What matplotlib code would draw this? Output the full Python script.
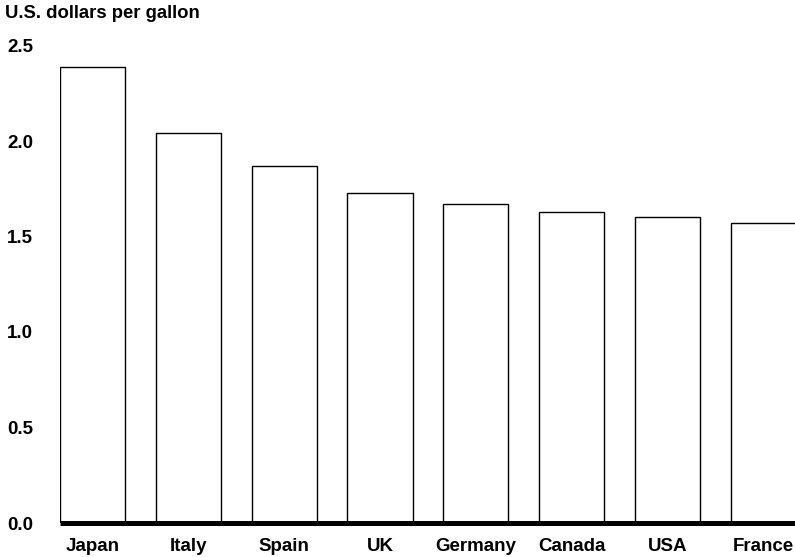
import matplotlib.pyplot as plt

plt.rcParams['font.family'] = ['Liberation Sans', 'DejaVu Sans']
plt.rcParams['font.weight'] = 'bold'

# Gasoline prices by country
countries = ['Japan', 'Italy', 'Spain', 'UK', 'Germany', 'Canada', 'USA', 'France']
prices = [2.39, 2.04, 1.87, 1.73, 1.67, 1.63, 1.60, 1.57]
y_ticks = [0.0, 0.5, 1.0, 1.5, 2.0, 2.5]

fig = plt.figure(figsize=(7.95, 5.57), dpi=100)
ax = fig.add_axes([60 / 795, 34 / 557, 735 / 795, 477.5 / 557])

x = range(len(countries))
ax.bar(x, prices, width=0.68, color='white', edgecolor='black', linewidth=1.0)

ax.set_ylim(0, 2.5)
ax.set_xlim(-0.34, 7.33)

ax.set_xticks(list(x))
ax.set_xticklabels(countries, fontsize=13.5, fontweight='bold')
ax.set_yticks(y_ticks)
ax.set_yticklabels([f'{v:.1f}' for v in y_ticks], fontsize=13.5, fontweight='bold', ha='left')
ax.tick_params(axis='x', length=0, pad=10.5)
ax.tick_params(axis='y', length=0, pad=38)

for side in ['top', 'right', 'left']:
    ax.spines[side].set_visible(False)
ax.spines['bottom'].set_linewidth(3.6)
ax.spines['bottom'].set_capstyle('butt')

fig.text(5 / 795, 1 - 14 / 557, 'U.S. dollars per gallon', fontsize=13.3,
         fontweight='bold', va='center', ha='left')

fig.savefig('out.png', dpi=100)
